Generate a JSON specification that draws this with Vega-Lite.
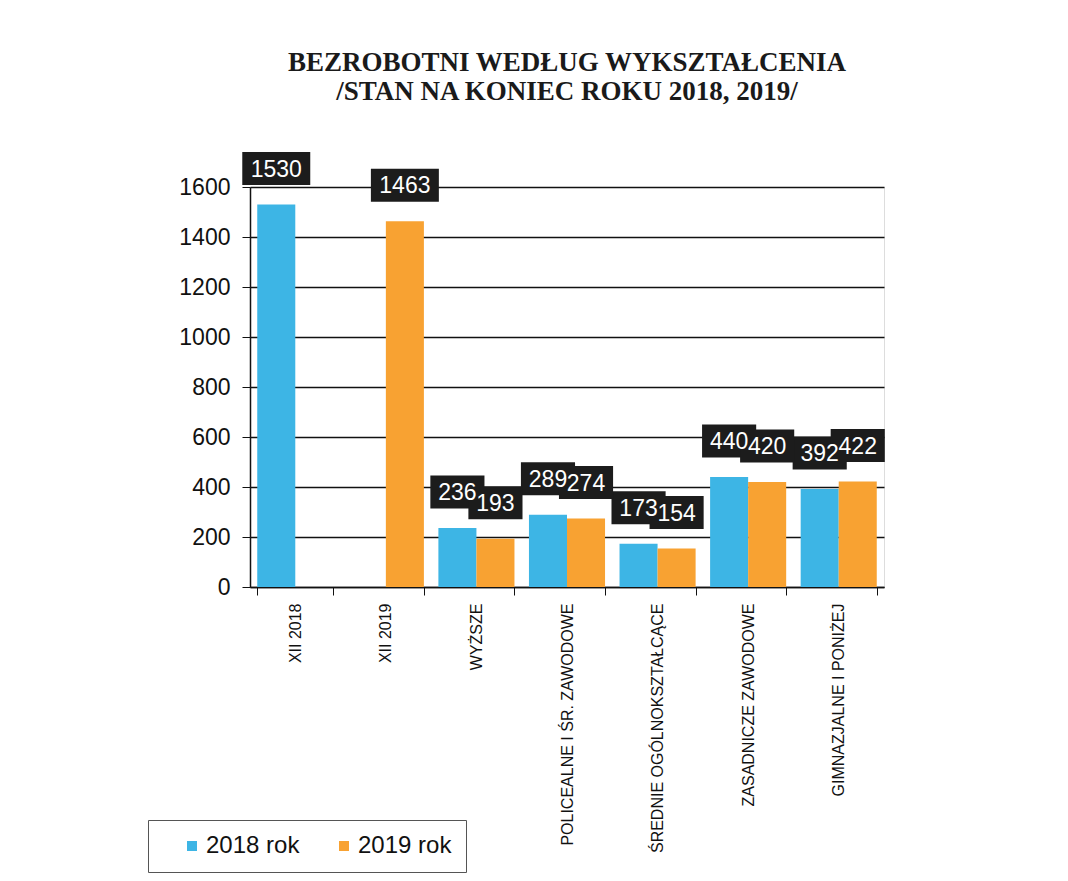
{
  "$schema": "https://vega.github.io/schema/vega-lite/v6.json",
  "autosize": {"type": "none"},
  "width": 634,
  "height": 400,
  "padding": {"left": 250, "top": 187, "right": 184, "bottom": 294},
  "background": "white",
  "title": {
    "text": ["BEZROBOTNI WEDŁUG WYKSZTAŁCENIA", "/STAN NA KONIEC ROKU 2018, 2019/"],
    "font": "Liberation Serif",
    "fontSize": 27,
    "fontWeight": "bold",
    "color": "#1a1a1a",
    "lineHeight": 29,
    "anchor": "middle",
    "offset": 46
  },
  "data": {
    "values": [
      {"kategoria": "XII 2018", "rok": "2018 rok", "wartosc": 1530},
      {"kategoria": "WYŻSZE", "rok": "2018 rok", "wartosc": 236},
      {"kategoria": "POLICEALNE I ŚR. ZAWODOWE", "rok": "2018 rok", "wartosc": 289},
      {"kategoria": "ŚREDNIE OGÓLNOKSZTAŁCĄCE", "rok": "2018 rok", "wartosc": 173},
      {"kategoria": "ZASADNICZE ZAWODOWE", "rok": "2018 rok", "wartosc": 440},
      {"kategoria": "GIMNAZJALNE I PONIŻEJ", "rok": "2018 rok", "wartosc": 392},
      {"kategoria": "XII 2019", "rok": "2019 rok", "wartosc": 1463},
      {"kategoria": "WYŻSZE", "rok": "2019 rok", "wartosc": 193},
      {"kategoria": "POLICEALNE I ŚR. ZAWODOWE", "rok": "2019 rok", "wartosc": 274},
      {"kategoria": "ŚREDNIE OGÓLNOKSZTAŁCĄCE", "rok": "2019 rok", "wartosc": 154},
      {"kategoria": "ZASADNICZE ZAWODOWE", "rok": "2019 rok", "wartosc": 420},
      {"kategoria": "GIMNAZJALNE I PONIŻEJ", "rok": "2019 rok", "wartosc": 422}
    ]
  },
  "encoding": {
    "x": {
      "field": "kategoria",
      "type": "nominal",
      "sort": ["XII 2018", "XII 2019", "WYŻSZE", "POLICEALNE I ŚR. ZAWODOWE", "ŚREDNIE OGÓLNOKSZTAŁCĄCE", "ZASADNICZE ZAWODOWE", "GIMNAZJALNE I PONIŻEJ"],
      "scale": {"paddingInner": 0.16, "paddingOuter": 0.08},
      "axis": {
        "title": null,
        "labelAngle": -90,
        "labelAlign": "right",
        "labelBaseline": "middle",
        "labelFont": "Liberation Sans",
        "labelFontSize": 16,
        "labelColor": "#111",
        "labelPadding": 8,
        "labelLimit": 300,
        "tickBand": "extent",
        "tickSize": 8,
        "tickColor": "#111",
        "domainColor": "#111",
        "domainWidth": 1.5
      }
    },
    "xOffset": {"field": "rok", "type": "nominal"},
    "y": {
      "field": "wartosc",
      "type": "quantitative",
      "scale": {"domain": [0, 1600]},
      "axis": {
        "title": null,
        "format": "d",
        "values": [0, 200, 400, 600, 800, 1000, 1200, 1400, 1600],
        "labelFont": "Liberation Sans",
        "labelFontSize": 23,
        "labelColor": "#111",
        "labelPadding": 12,
        "tickSize": 8,
        "tickColor": "#111",
        "domainColor": "#111",
        "domainWidth": 1.5,
        "grid": true,
        "gridColor": "#111",
        "gridWidth": 1.5
      }
    }
  },
  "layer": [
    {
      "mark": {"type": "bar"},
      "encoding": {
        "color": {
          "field": "rok",
          "type": "nominal",
          "scale": {"domain": ["2018 rok", "2019 rok"], "range": ["#3DB5E5", "#F8A232"]},
          "legend": {
            "title": null,
            "orient": "none",
            "legendX": -102,
            "legendY": 633,
            "direction": "horizontal",
            "strokeColor": "#555",
            "fillColor": "white",
            "padding": 14,
            "symbolOffset": 18,
            "symbolType": "square",
            "symbolSize": 100,
            "symbolStrokeWidth": 0,
            "labelFont": "Liberation Sans",
            "labelFontSize": 24,
            "labelColor": "#111",
            "labelOffset": 2,
            "columnPadding": 14
          }
        }
      }
    },
    {
      "mark": {"type": "point", "filled": true, "opacity": 1, "color": "#1c1c1c", "yOffset": -36, "size": 1089},
      "encoding": {
        "shape": {
          "condition": {"test": "datum.wartosc >= 1000", "value": "M-2.06,-1H2.06V1H-2.06Z"},
          "value": "M-1.64,-1H1.64V1H-1.64Z"
        }
      }
    },
    {
      "mark": {"type": "text", "color": "white", "font": "Liberation Sans", "fontSize": 23, "baseline": "middle", "align": "center", "yOffset": -35},
      "encoding": {
        "text": {"field": "wartosc", "type": "quantitative"}
      }
    }
  ]
}
